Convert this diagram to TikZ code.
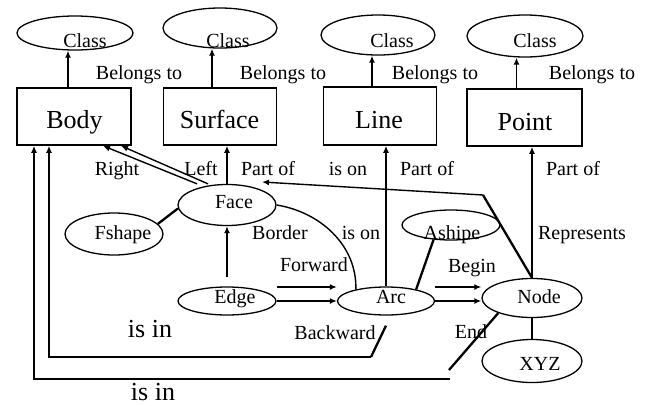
\documentclass[tikz,border=0pt]{standalone}
\usepackage{fontspec}
\setmainfont{Liberation Serif}
\usetikzlibrary{shapes.geometric,arrows.meta}
\begin{document}
\begin{tikzpicture}[x=1pt,y=-1pt,
  ell/.style={draw,ellipse,line width=1.3pt,inner sep=0pt},
  box/.style={draw,rectangle,line width=1.6pt,inner sep=0pt},
  lbl/.style={font=\fontsize{20}{24}\selectfont,inner sep=0pt,anchor=base},
  big/.style={font=\fontsize{26}{30}\selectfont,inner sep=0pt,anchor=base},
  arr/.style={line width=1.4pt,-{Latex[length=7pt,width=6pt]}},
  ln/.style={line width=1.4pt},
  thk/.style={line width=2.3pt}]
\useasboundingbox (0,0) rectangle (649,405);
% class ellipses
\node[ell,minimum width=116pt,minimum height=34pt] (c1) at (75,33) {};
\node[ell,minimum width=114pt,minimum height=40pt] (c2) at (220,28) {};
\node[ell,minimum width=114pt,minimum height=40pt] (c3) at (378,35) {};
\node[ell,minimum width=116pt,minimum height=42pt] (c4) at (525,36) {};
\node[lbl] (tc1) at (85,47) {Class};
\node[lbl] (tc2) at (228,47) {Class};
\node[lbl] (tc3) at (392,47) {Class};
\node[lbl] (tc4) at (535,47) {Class};
% boxes
\node[box,minimum width=114pt,minimum height=57pt] (body) at (74,116.5) {};
\node[box,minimum width=113pt,minimum height=57pt] (surface) at (220,116.5) {};
\node[box,minimum width=113pt,minimum height=58pt] (line) at (380,116) {};
\node[box,minimum width=115pt,minimum height=57pt] (point) at (524.5,117.5) {};
\node[big] (tbody) at (74.5,128) {Body};
\node[big] (tsurface) at (219.5,128) {Surface};
\node[big] (tline) at (379,128) {Line};
\node[big] (tpoint) at (525,130) {Point};
% ellipses
\node[ell,minimum width=98pt,minimum height=41pt] (face) at (227,205) {};
\node[ell,minimum width=98pt,minimum height=42pt] (fshape) at (114,234) {};
\node[ell,minimum width=98pt,minimum height=28pt] (edge) at (227,301) {};
\node[ell,minimum width=97pt,minimum height=28pt] (arc) at (386,301) {};
\node[ell,minimum width=98pt,minimum height=30pt] (ashipe) at (451,225) {};
\node[ell,minimum width=100pt,minimum height=39pt] (node) at (532,298) {};
\node[ell,minimum width=100pt,minimum height=43pt] (xyz) at (532,361) {};
\node[lbl] (tface) at (234,208) {Face};
\node[lbl] (tfshape) at (123,239) {Fshape};
\node[lbl] (tedge) at (235,303) {Edge};
\node[lbl] (tarc) at (391,303) {Arc};
\node[lbl] (tashipe) at (452,239) {Ashipe};
\node[lbl] (tnode) at (539,303) {Node};
\node[lbl] (txyz) at (540,370) {XYZ};
% labels
\node[lbl] (b1) at (139,79) {Belongs to};
\node[lbl] (b2) at (283,79) {Belongs to};
\node[lbl] (b3) at (435,79) {Belongs to};
\node[lbl] (b4) at (592,79) {Belongs to};
\node[lbl] (lright) at (117,175) {Right};
\node[lbl] (lleft) at (201,175) {Left};
\node[lbl] (lpo1) at (268,175) {Part of};
\node[lbl] (lison1) at (348,175) {is on};
\node[lbl] (lpo2) at (427,175) {Part of};
\node[lbl] (lpo3) at (573,175) {Part of};
\node[lbl] (lborder) at (280,239) {Border};
\node[lbl] (lison2) at (361,239) {is on};
\node[lbl] (lrep) at (582,239) {Represents};
\node[lbl] (lfwd) at (314,271) {Forward};
\node[lbl] (lbegin) at (472,272) {Begin};
\node[lbl] (lback) at (335,339) {Backward};
\node[lbl] (lend) at (471,338) {End};
\node[big] (isin1) at (150,337) {is in};
\node[big] (isin2) at (153,400) {is in};
% belongs to arrows
\draw[arr] ([xshift=-6pt]body.north) -- ([xshift=-6pt]body.north |- c1.south);
\draw[arr] ([xshift=-8pt]surface.north) -- ([xshift=-8pt]surface.north |- c2.south);
\draw[arr] ([xshift=-8pt]line.north) -- ([xshift=-8pt]line.north |- c3.south);
\draw[arr] ([xshift=-8pt]point.north) -- ([xshift=-8pt]point.north |- c4.south);
% part of
\draw[arr] (face.north) -- (face.north |- surface.south);
\draw[arr] (arc.north) -- (arc.north |- line.south);
\draw[arr] (node.north) -- (node.north |- point.south);
% right / left
\draw[arr] ([xshift=-30pt]face.north) -- ([xshift=29pt]body.south);
\draw[arr] ([xshift=-19pt]face.north) -- ([xshift=47pt]body.south);
% edge -> face
\draw[arr] ([yshift=9pt]edge.north) -- (face.south);
% forward / begin
\draw[arr] (edge.east) -- (arc.west);
\draw[arr] ([yshift=14pt]edge.east) -- ([yshift=14pt]arc.west);
\draw[arr] (arc.east) -- (arc.east -| node.west);
\draw[arr] ([yshift=14pt]arc.east) -- ([yshift=14pt]arc.east -| node.west);
% border curve
\draw[ln] (face.east) .. controls (320,212) and (357,245) .. (arc.159);
% represents: node -> face
\coordinate (nf) at (483,195);
\draw[thk] (node.north) -- (nf);
\draw[arr] (nf) -- ([xshift=35pt,yshift=23pt]face.center);
% plain links
\draw[thk] (arc.21) -- (ashipe.-140);
\draw[thk] (fshape.13) -- (face.184);
\draw[ln] (node.south) -- (xyz.north);
% is in lines
\coordinate (ab1) at (371,357);
\draw[thk] ([yshift=-10pt]arc.south) -- (ab1);
\draw[arr] (ab1) -| ([xshift=-25pt]body.south);
\coordinate (nb1) at (449,370);
\coordinate (nb2) at (450,379);
\draw[thk] (node.204) -- (nb1);
\draw[arr] (nb2) -| ([xshift=-40pt]body.south);
\end{tikzpicture}
\end{document}
